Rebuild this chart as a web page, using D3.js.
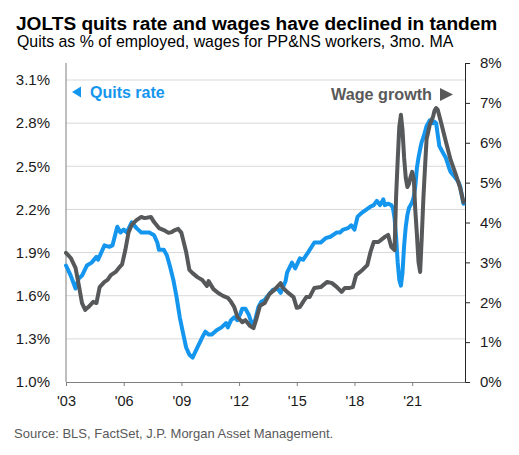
<!DOCTYPE html>
<html>
<head>
<meta charset="utf-8">
<script src="https://cdn.jsdelivr.net/npm/d3@7/dist/d3.min.js"></script>
<style>
  html, body { margin: 0; padding: 0; background: #ffffff; }
  svg { display: block; font-family: "Liberation Sans", Arial, sans-serif; }
</style>
</head>
<body>
<svg id="chart" width="519" height="455"></svg>
<script>
// ---------------- DATA ----------------
const quitsDates = ["2003-01","2003-04","2003-07","2003-09","2003-11","2004-02","2004-05","2004-08","2004-09","2005-01",
"2005-04","2005-06","2005-09","2005-11","2006-01","2006-03","2006-06","2006-09","2006-12","2007-05",
"2007-08","2007-10","2007-11","2008-02","2008-04","2008-06","2008-08","2008-10","2008-12","2009-02",
"2009-04","2009-06","2009-08","2009-11","2010-02","2010-04","2010-06","2010-08","2010-11","2011-02",
"2011-05","2011-06","2011-08","2011-10","2011-12","2012-02","2012-03","2012-05","2012-07","2012-09",
"2012-11","2013-01","2013-03","2013-05","2013-07","2013-10","2014-01","2014-03","2014-06","2014-07",
"2014-10","2014-12","2015-03","2015-05","2015-08","2015-12","2016-04","2016-07","2016-10","2017-02",
"2017-04","2017-06","2017-09","2017-11","2018-01","2018-03","2018-06","2018-11","2019-01","2019-03",
"2019-05","2019-07","2019-08","2019-10","2019-12","2020-01","2020-02","2020-03","2020-04","2020-05",
"2020-06","2020-07","2020-08","2020-09","2020-10","2020-11","2020-12","2021-01","2021-02","2021-03",
"2021-04","2021-05","2021-06","2021-07","2021-08","2021-09","2021-10","2021-11","2021-12","2022-01",
"2022-02","2022-03","2022-04","2022-05","2022-06","2022-07","2022-08","2022-10","2022-12","2023-01",
"2023-04","2023-06","2023-07","2023-08","2023-09"];
const quitsRate = [1.81,1.74,1.65,1.72,1.74,1.81,1.83,1.87,1.85,1.95,
1.94,1.95,2.08,2.04,2.06,2.04,2.11,2.07,2.04,2.04,
2.02,1.97,1.92,1.92,1.88,1.80,1.71,1.59,1.45,1.34,
1.24,1.19,1.17,1.24,1.31,1.35,1.33,1.33,1.36,1.38,
1.41,1.38,1.43,1.45,1.43,1.48,1.51,1.51,1.47,1.40,
1.43,1.52,1.56,1.57,1.60,1.64,1.65,1.62,1.70,1.76,
1.83,1.79,1.86,1.85,1.90,1.97,1.97,2.00,2.01,2.04,
2.04,2.06,2.07,2.09,2.06,2.15,2.18,2.22,2.23,2.26,
2.23,2.27,2.23,2.24,2.23,2.21,2.14,2.01,1.83,1.71,
1.67,1.76,1.95,2.08,2.16,2.21,2.23,2.25,2.29,2.36,
2.49,2.56,2.62,2.67,2.70,2.74,2.78,2.80,2.82,2.81,
2.80,2.81,2.80,2.72,2.64,2.62,2.60,2.56,2.49,2.46,
2.42,2.39,2.36,2.30,2.24];

const wageDates = ["2003-01","2003-04","2003-07","2003-09","2003-11","2004-01","2004-03","2004-06","2004-08","2004-10",
"2005-01","2005-03","2005-05","2005-08","2005-10","2005-12","2006-02","2006-04","2006-06","2006-09",
"2006-12","2007-02","2007-06","2007-08","2007-11","2008-02","2008-05","2008-07","2008-09","2008-11",
"2009-01","2009-04","2009-06","2009-08","2009-11","2010-02","2010-05","2010-06","2010-09","2010-12",
"2011-03","2011-06","2011-08","2011-10","2011-12","2012-03","2012-05","2012-08","2012-10","2012-12",
"2013-02","2013-05","2013-08","2013-11","2014-03","2014-04","2014-07","2014-11","2015-01","2015-03",
"2015-05","2015-07","2015-09","2015-12","2016-04","2016-08","2016-11","2017-02","2017-05","2017-07",
"2017-10","2017-12","2018-02","2018-06","2018-09","2018-11","2019-01","2019-04","2019-08","2019-10",
"2019-12","2020-02","2020-03","2020-04","2020-05","2020-06","2020-07","2020-08","2020-09","2020-10",
"2020-11","2020-12","2021-01","2021-02","2021-03","2021-04","2021-05","2021-06","2021-07","2021-08",
"2021-09","2021-10","2021-11","2021-12","2022-01","2022-02","2022-03","2022-04","2022-05","2022-06",
"2022-07","2022-10","2023-01","2023-04","2023-07","2023-09"];
const wageGrowth = [3.24,3.11,2.86,2.43,1.98,1.81,1.88,2.01,1.98,2.38,
2.51,2.56,2.68,2.76,2.86,2.95,3.31,3.74,3.94,4.06,
4.14,4.11,4.14,4.01,3.86,3.81,3.74,3.76,3.81,3.84,
3.74,3.26,2.81,2.73,2.63,2.56,2.41,2.53,2.33,2.23,
2.16,2.11,2.01,1.88,1.63,1.50,1.55,1.40,1.35,1.61,
1.91,1.98,2.21,2.31,2.48,2.38,2.26,2.13,1.86,1.88,
2.01,2.13,2.13,2.36,2.38,2.51,2.48,2.38,2.26,2.36,
2.36,2.38,2.68,2.81,2.93,3.26,3.51,3.51,3.64,3.69,
3.39,3.31,4.64,5.57,6.40,6.70,6.32,5.62,5.12,4.89,
4.97,5.14,5.27,5.09,4.31,3.69,3.01,2.76,3.61,4.59,
5.37,6.09,6.27,6.45,6.55,6.65,6.80,6.87,6.83,6.67,
6.52,6.04,5.57,5.24,4.87,4.51];

const xTickYears = [2003, 2006, 2009, 2012, 2015, 2018, 2021];
const xTickLabels = ["'03", "'06", "'09", "'12", "'15", "'18", "'21"];
const leftTicks = [1.0, 1.3, 1.6, 1.9, 2.2, 2.5, 2.8, 3.1];
const rightTicks = [0, 1, 2, 3, 4, 5, 6, 7, 8];

const titleText = "JOLTS quits rate and wages have declined in tandem";
const subtitleText = "Quits as % of employed, wages for PP&NS workers, 3mo. MA";
const sourceText = "Source: BLS, FactSet, J.P. Morgan Asset Management.";
const quitsLabel = "Quits rate";
const wageLabel = "Wage growth";

// ---------------- CHART ----------------
const BLUE = "#1596ee";
const GRAY = "#56585a";
const parse = d3.timeParse("%Y-%m");

const L = 66, R = 465, T = 63, B = 382;
const svg = d3.select("#chart");

const x = d3.scaleTime().domain([new Date(2003, 0, 1), new Date(2023, 9, 1)]).range([L, R]);
const yL = d3.scaleLinear().domain([1.0, 3.1]).range([B, 80]);
const yR = d3.scaleLinear().domain([0, 8]).range([B, T]);

// title / subtitle
svg.append("text").attr("x", 16).attr("y", 30)
  .attr("font-size", 19.1).attr("font-weight", "bold").attr("fill", "#000")
  .text(titleText);
svg.append("text").attr("x", 17).attr("y", 47)
  .attr("font-size", 15.9).attr("fill", "#000")
  .text(subtitleText);

// gridlines
svg.append("g").selectAll("line").data(leftTicks.filter(d => d > 1.0)).join("line")
  .attr("x1", L).attr("x2", R)
  .attr("y1", d => yL(d)).attr("y2", d => yL(d))
  .attr("stroke", "#d9d9d9").attr("stroke-width", 1);

// left axis
const gL = svg.append("g").attr("transform", `translate(${L},0)`)
  .call(d3.axisLeft(yL).tickValues(leftTicks).tickSize(0).tickPadding(16)
    .tickFormat(d => d.toFixed(1) + "%"));
gL.select(".domain").remove();
gL.selectAll("text").attr("font-size", 15).attr("fill", "#1a1a1a").attr("font-family", null);
svg.append("line").attr("x1", L).attr("x2", L).attr("y1", T).attr("y2", B)
  .attr("stroke", "#7f7f7f").attr("stroke-width", 1);

// right axis
const gR = svg.append("g").attr("transform", `translate(${R},0)`)
  .call(d3.axisRight(yR).tickValues(rightTicks).tickSize(5).tickSizeOuter(0).tickPadding(10)
    .tickFormat(d => d + "%"));
gR.select(".domain").attr("stroke", "#262626");
gR.selectAll(".tick line").attr("stroke", "#262626");
gR.selectAll("text").attr("font-size", 15).attr("fill", "#1a1a1a").attr("font-family", null);

// bottom axis
const gB = svg.append("g").attr("transform", `translate(0,${B})`)
  .call(d3.axisBottom(x).tickValues(xTickYears.map(yv => new Date(yv, 0, 1)))
    .tickSize(4).tickSizeOuter(0).tickPadding(10)
    .tickFormat((d, i) => xTickLabels[i]));
gB.select(".domain").attr("stroke", "#7f7f7f");
gB.selectAll(".tick line").attr("stroke", "#7f7f7f");
gB.selectAll("text").attr("font-size", 14.5).attr("fill", "#1a1a1a").attr("font-family", null);

// lines
const quitsData = quitsDates.map((d, i) => ({ date: parse(d), value: quitsRate[i] }));
const wageData = wageDates.map((d, i) => ({ date: parse(d), value: wageGrowth[i] }));

svg.append("path").datum(quitsData)
  .attr("fill", "none").attr("stroke", BLUE).attr("stroke-width", 4)
  .attr("stroke-linejoin", "round").attr("stroke-linecap", "round")
  .attr("d", d3.line().x(d => x(d.date)).y(d => yL(d.value)));

svg.append("path").datum(wageData)
  .attr("fill", "none").attr("stroke", GRAY).attr("stroke-width", 4)
  .attr("stroke-linejoin", "round").attr("stroke-linecap", "round")
  .attr("d", d3.line().x(d => x(d.date)).y(d => yR(d.value)));

// legend labels
svg.append("path").attr("d", "M72,92 L81,86.5 L81,97.5 Z").attr("fill", BLUE);
svg.append("text").attr("x", 90).attr("y", 97.5)
  .attr("font-size", 16).attr("font-weight", "bold").attr("fill", BLUE)
  .text(quitsLabel);

svg.append("text").attr("x", 432).attr("y", 100).attr("text-anchor", "end")
  .attr("font-size", 16.2).attr("font-weight", "bold").attr("fill", "#595959")
  .text(wageLabel);
svg.append("path").attr("d", "M453,94.5 L440,88 L440,101 Z").attr("fill", "#595959");

// source
svg.append("text").attr("x", 14).attr("y", 438)
  .attr("font-size", 13).attr("fill", "#595959")
  .text(sourceText);
</script>
</body>
</html>
